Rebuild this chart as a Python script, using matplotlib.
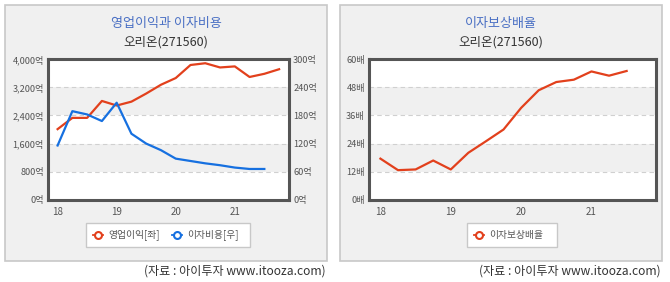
import matplotlib
matplotlib.use('Agg')
import matplotlib.pyplot as plt
from matplotlib.lines import Line2D
from matplotlib.patches import Rectangle

plt.rcParams['font.family'] = ['Noto Sans CJK KR', 'DejaVu Sans']

# quarterly data, 2018 Q1 onward
x_ticks = [0, 4, 8, 12]
x_labels = ['18', '19', '20', '21']
op_profit = [2010, 2330, 2330, 2810, 2680, 2790, 3020, 3270, 3460, 3830, 3880,
             3760, 3790, 3490, 3580, 3710]
interest = [116, 189, 182, 168, 207, 141, 120, 106, 88, 83, 78, 74, 69, 66, 66]
coverage = [17.6, 12.7, 13.0, 16.8, 13.0, 20.1, 25.0, 30.0, 39.2, 46.7, 50.2,
            51.2, 54.7, 52.9, 54.9]

left_ticks = [0, 800, 1600, 2400, 3200, 4000]
right_ticks = [0, 60, 120, 180, 240, 300]
cov_ticks = [0, 12, 24, 36, 48, 60]

RED = '#e2401c'
BLUE = '#1670e0'
TXT = '#555555'
W, H = 670, 282

fig = plt.figure(figsize=(W / 100, H / 100), dpi=100)


def rect(x0, y0, x1, y1):
    return [x0 / W, 1 - y1 / H, (x1 - x0) / W, (y1 - y0) / H]


def panel(x0, x1, title, legend_box):
    # grey background box of each panel
    fig.patches.append(Rectangle((x0 / W, 1 - 261 / H), (x1 - x0) / W, 256 / H,
                                 transform=fig.transFigure, facecolor='#f0f0f0',
                                 edgecolor='#c8c8c8', linewidth=1.2, zorder=0))
    cx = (x0 + x1) / 2 / W
    fig.text(cx, 1 - 23 / H, title, ha='center', va='center', fontsize=9.4, color='#4a70c4')
    fig.text(cx, 1 - 42 / H, '오리온(271560)', ha='center', va='center', fontsize=9, color='#333333')
    fig.text((x1 - 1) / W, 1 - 271 / H, '(자료 : 아이투자 www.itooza.com)', ha='right',
             va='center', fontsize=8.7, color='#333333')
    lx0, lx1 = legend_box
    fig.patches.append(Rectangle((lx0 / W, 1 - 247 / H), (lx1 - lx0) / W, 24 / H,
                                 transform=fig.transFigure, facecolor='white',
                                 edgecolor='#c8c8c8', linewidth=1, zorder=1))


def style(ax, ticks, fmt):
    ax.set_zorder(2)
    ax.set_xlim(-0.65, 15.67)
    ax.set_ylim(ticks[0], ticks[-1])
    ax.set_yticks(ticks)
    ax.set_yticklabels([fmt(t) for t in ticks])
    ax.set_xticks(x_ticks)
    ax.set_xticklabels(x_labels)
    ax.tick_params(axis='y', length=0, labelsize=6.6, labelcolor=TXT, pad=3)
    ax.tick_params(axis='x', length=0, labelsize=7, labelcolor=TXT, pad=5)
    for s in ax.spines.values():
        s.set_color('#555555')
        s.set_linewidth(2.2)
    ax.axhspan(ticks[1], ticks[2], color='#f0f0f0', zorder=0, lw=0)
    ax.axhspan(ticks[3], ticks[4], color='#f0f0f0', zorder=0, lw=0)
    for t in ticks[1:-1]:
        ax.axhline(t, color='#d0d0d0', lw=0.8, ls=(0, (4, 3)), zorder=1)


# left panel: operating profit vs interest expense
panel(5, 327, '영업이익과 이자비용', (86, 250))
ax = fig.add_axes(rect(48, 59, 289, 200))
style(ax, left_ticks, lambda v: f'{v:,}억')
ax.plot(range(len(op_profit)), op_profit, color=RED, lw=1.6, zorder=3)
ax2 = ax.twinx()
ax2.set_zorder(3)
ax2.patch.set_visible(False)
ax2.set_ylim(0, 300)
ax2.set_yticks(right_ticks)
ax2.set_yticklabels([f'{v}억' for v in right_ticks])
ax2.tick_params(length=0, labelsize=6.6, labelcolor=TXT, pad=3)
for s in ax2.spines.values():
    s.set_visible(False)
ax2.plot(range(len(interest)), interest, color=BLUE, lw=1.6, zorder=3)

# right panel: interest coverage ratio
panel(340, 662, '이자보상배율', (467, 557))
bx = fig.add_axes(rect(369, 59, 656, 200))
style(bx, cov_ticks, lambda v: f'{v}배')
bx.plot(range(len(coverage)), coverage, color=RED, lw=1.6, zorder=3)


# legends drawn by hand to match the boxed layout
def leg_item(x, label, color):
    y = 1 - 235 / H
    fig.add_artist(Line2D([(x - 5) / W, (x + 5) / W], [y, y], color=color, lw=1.3, zorder=2))
    fig.add_artist(Line2D([x / W], [y], color=color, marker='o', markersize=5,
                          markerfacecolor='white', markeredgewidth=1.5, zorder=3))
    fig.text((x + 10) / W, y, label, ha='left', va='center', fontsize=7, color=TXT, zorder=3)


leg_item(98, '영업이익[좌]', RED)
leg_item(177, '이자비용[우]', BLUE)
leg_item(479, '이자보상배율', RED)

fig.savefig('out.png', dpi=100)
